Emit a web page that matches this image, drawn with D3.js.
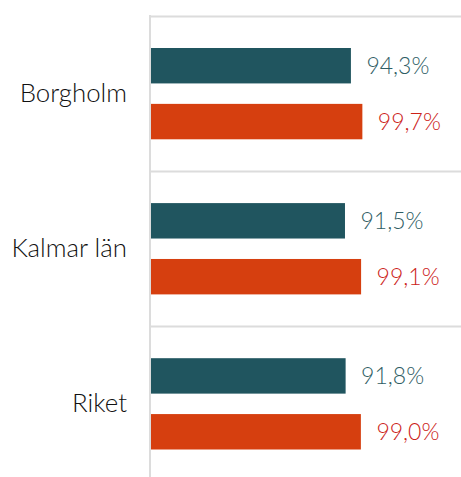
<!DOCTYPE html>
<html><head><meta charset="utf-8">
<script src="https://cdn.jsdelivr.net/npm/d3@7"></script>
<style>body{margin:0;background:#fff}svg{display:block}</style>
</head><body>
<svg id="c" width="461" height="477"></svg>
<script>
const categories = ["Borgholm", "Kalmar län", "Riket"];
const seriesNames = ["Serie A", "Serie B"];
const seriesA = [94.3, 91.5, 91.8];
const seriesB = [99.7, 99.1, 99.0];
const colors = ["#20555f", "#d63f0f"];
const labelColors = ["#2f5d64", "#cc2218"];

const svg = d3.select("#c");
const x = d3.scaleLinear().domain([0, 100]).range([150, 362]);
const y = d3.scaleBand().domain(categories).range([15.7, 481]);
const inner = d3.scaleBand().domain([0, 1]).range([32.3, 123.6]).paddingInner(0.366);

const fmt = v => v.toFixed(1).replace(".", ",") + "%";

// gridlines (category separators)
svg.append("g").selectAll("line").data(categories).join("line")
  .attr("x1", 150).attr("x2", 461)
  .attr("y1", d => Math.round(y(d)) + 0.5).attr("y2", d => Math.round(y(d)) + 0.5)
  .attr("stroke", "#dcdcdc").attr("stroke-width", 2);

const series = [seriesA, seriesB];
series.forEach((vals, si) => {
  const g = svg.append("g");
  g.selectAll("rect").data(categories).join("rect")
    .attr("x", x(0) + 1)
    .attr("y", d => y(d) + inner(si))
    .attr("width", (d, i) => x(vals[i]) - x(0))
    .attr("height", inner.bandwidth())
    .attr("fill", colors[si]);
  g.selectAll("text").data(categories).join("text")
    .attr("x", (d, i) => x(vals[i]) + 16.5)
    .attr("y", d => y(d) + inner(si) + inner.bandwidth() / 2)
    .attr("dy", "0.36em")
    .attr("font-family", "Lato").attr("font-weight", 300).attr("font-size", 23)
    .attr("fill", labelColors[si])
    .text((d, i) => fmt(vals[i]));
});

// axis line
svg.append("line").attr("x1", 150).attr("x2", 150).attr("y1", 15).attr("y2", 477)
  .attr("stroke", "#dcdcdc").attr("stroke-width", 2);

// category labels
const yAxis = d3.axisLeft(y).tickSize(0).tickPadding(23);
const ya = svg.append("g").attr("transform", "translate(150,0)").call(yAxis);
ya.select(".domain").remove();
ya.selectAll("text").attr("font-family", "Lato").attr("font-weight", 300)
  .attr("font-size", 25.8).attr("fill", "#111");
</script>
</body></html>
